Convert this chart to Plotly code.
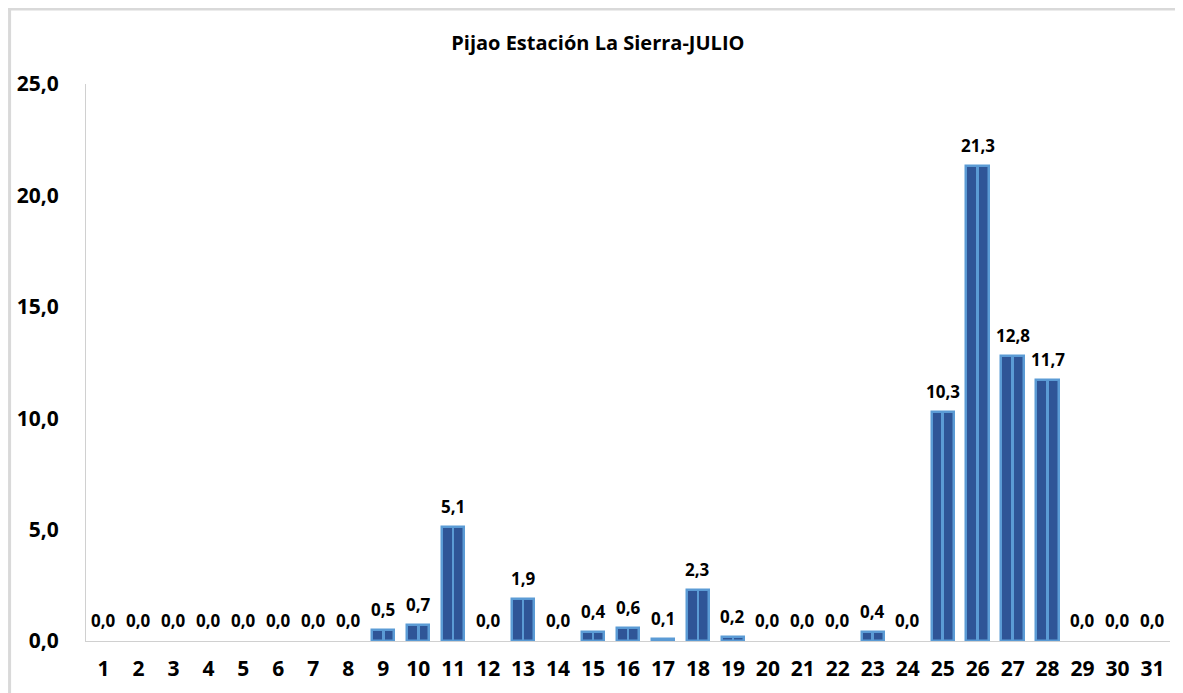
import plotly.graph_objects as go

days = [str(d) for d in range(1, 32)]
rain = [0.0, 0.0, 0.0, 0.0, 0.0, 0.0, 0.0, 0.0, 0.5, 0.7, 5.1, 0.0, 1.9, 0.0, 0.4, 0.6,
        0.1, 2.3, 0.2, 0.0, 0.0, 0.0, 0.4, 0.0, 10.3, 21.3, 12.8, 11.7, 0.0, 0.0, 0.0]
y_ticks = [0, 5, 10, 15, 20, 25]
title = "Pijao Estación La Sierra-JULIO"

FONT = "Open Sans"
fill = "#2F5597"
edge = "#5B9BD5"

fig = go.Figure()
fig.add_trace(go.Bar(
    x=days, y=rain, width=0.64,
    marker=dict(color=fill, line=dict(color=edge, width=[2.5 if v > 0 else 0 for v in rain])),
    hoverinfo="x+y", showlegend=False,
))
fig.add_trace(go.Bar(
    x=days, y=rain, width=0.075,
    marker=dict(color=edge, line=dict(width=0)),
    hoverinfo="skip", showlegend=False,
))

annotations = []
for i, v in enumerate(rain):
    annotations.append(dict(
        x=i, y=v, xref="x", yref="y", text=f"{v:.1f}".replace(".", ","),
        showarrow=False, yanchor="bottom", yshift=7,
        font=dict(family=FONT, size=17, color="#000000", weight="bold"),
    ))

fig.update_layout(
    width=1175, height=685,
    margin=dict(l=78, r=13, t=76, b=52),
    paper_bgcolor="white", plot_bgcolor="white",
    barmode="overlay", bargap=0,
    separators=",.",
    title=dict(text=f"<b>{title}</b>", x=0.502, xanchor="center", y=0.949, yanchor="middle",
               font=dict(family=FONT, size=20, color="#000000")),
    xaxis=dict(type="category", showline=True, linecolor="#d0d0d0", linewidth=1,
               ticks="", showgrid=False, automargin=False, ticklabelstandoff=9,
               tickfont=dict(family=FONT, size=21, color="#000000", weight="bold")),
    yaxis=dict(range=[0, 25], tickvals=y_ticks, tickformat=".1f", showgrid=False,
               showline=True, linecolor="#d0d0d0", linewidth=1, ticks="", zeroline=False,
               ticklabelstandoff=22, automargin=False,
               tickfont=dict(family=FONT, size=21, color="#000000", weight="bold")),
    annotations=annotations,
    shapes=[
        dict(type="line", xref="paper", yref="paper", x0=-0.072, x1=1.02, y0=1.1346, y1=1.1346,
             line=dict(color="#d9d9d9", width=3)),
        dict(type="line", xref="paper", yref="paper", x0=-0.0705, x1=-0.0705, y0=1.1346, y1=-0.1,
             line=dict(color="#d9d9d9", width=3)),
    ],
)

fig.write_html("out.html")
